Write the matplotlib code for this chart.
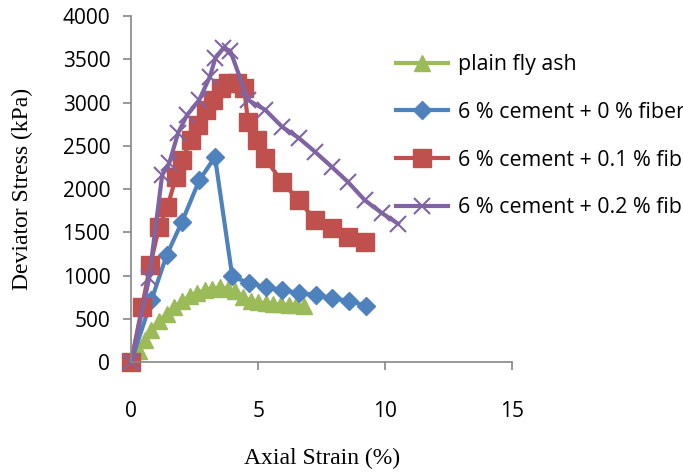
import matplotlib
matplotlib.use("Agg")
import matplotlib.pyplot as plt

# Axial strain (%) and deviator stress (kPa)
strain_plain = [0.0, 0.3, 0.55, 0.8, 1.1, 1.4, 1.7, 2.0, 2.3, 2.6, 2.9, 3.2,
                3.5, 3.8, 4.1, 4.4, 4.7, 5.0, 5.3, 5.6, 5.9, 6.2, 6.5, 6.8]
stress_plain = [0, 130, 250, 370, 470, 560, 640, 700, 760, 800, 830, 850,
                865, 850, 820, 750, 710, 690, 680, 670, 670, 660, 660, 650]

strain_c0 = [0.0, 0.8, 1.4, 2.0, 2.68, 3.3, 3.98, 4.65, 5.3, 5.95, 6.6,
             7.28, 7.9, 8.58, 9.25]
stress_c0 = [0, 717, 1237, 1620, 2100, 2370, 990, 910, 865, 830, 798,
             775, 740, 705, 650]

strain_c01 = [0.0, 0.43, 0.75, 1.1, 1.42, 1.77, 2.0, 2.36, 2.64, 2.95, 3.23,
              3.54, 3.82, 4.17, 4.45, 4.6, 4.96, 5.28, 5.94, 6.6, 7.24, 7.9,
              8.54, 9.2]
stress_c01 = [0, 640, 1120, 1560, 1790, 2140, 2335, 2565, 2740, 2910, 3030,
              3165, 3225, 3225, 3165, 2775, 2565, 2355, 2080, 1870, 1640, 1550,
              1450, 1390]

strain_c02 = [0.0, 0.71, 1.22, 1.5, 1.85, 2.2, 2.68, 3.1, 3.31, 3.62, 3.9,
              4.6, 5.28, 5.94, 6.6, 7.24, 7.9, 8.54, 9.2, 9.88, 10.5]
stress_c02 = [0, 970, 2160, 2300, 2650, 2855, 3030, 3300, 3510, 3625, 3600,
              3030, 2915, 2720, 2590, 2430, 2255, 2080, 1870, 1720, 1600]

labels = ["plain fly ash", "6 % cement + 0 % fiber",
          "6 % cement + 0.1 % fiber", "6 % cement + 0.2 % fiber"]

fig = plt.figure(figsize=(6.83, 4.72), dpi=100)
ax = fig.add_axes([0.192, 0.233, 0.558, 0.733])

ax.plot(strain_plain, stress_plain, color="#9BBB59", lw=3, marker="^",
        ms=11, label=labels[0], clip_on=False)
ax.plot(strain_c0, stress_c0, color="#4F81BD", lw=3, marker="D",
        ms=9, label=labels[1], clip_on=False)
ax.plot(strain_c01, stress_c01, color="#C0504D", lw=3, marker="s",
        ms=13, label=labels[2], clip_on=False)
ax.plot(strain_c02, stress_c02, color="#8064A2", lw=3, marker="x",
        ms=12, mew=1.5, label=labels[3], clip_on=False)

ax.set_xlim(0, 15)
ax.set_ylim(0, 4000)
ax.set_xticks([0, 5, 10, 15])
ax.set_yticks(range(0, 4001, 500))

for side in ["top", "right"]:
    ax.spines[side].set_visible(False)
for side in ["left", "bottom"]:
    ax.spines[side].set_color("#868686")
    ax.spines[side].set_linewidth(1.2)

ax.tick_params(colors="#868686", length=6, width=1.2, labelcolor="black",
               labelsize=15)
ax.tick_params(axis="x", pad=22)
ax.tick_params(axis="y", pad=9)
for t in ax.get_xticklabels() + ax.get_yticklabels():
    t.set_family("Open Sans")

ax.set_xlabel("Axial Strain (%)", family="Liberation Serif", fontsize=17,
              labelpad=19)
ax.set_ylabel("Deviator Stress (kPa)", family="Liberation Serif", fontsize=17,
              labelpad=21)

ax.legend(loc="upper left", bbox_to_anchor=(0.551, 0.926), bbox_transform=fig.transFigure,
          frameon=False, prop={"family": "Open Sans", "size": 15.4},
          labelspacing=1.25, handlelength=2.45, handletextpad=0.45)

fig.savefig("out.png", dpi=100)
